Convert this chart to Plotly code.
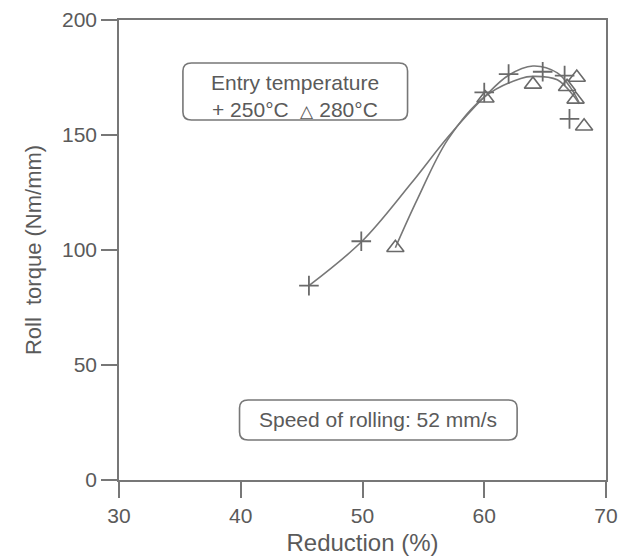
import plotly.graph_objects as go

# Measured points
x_250 = [45.6, 49.9, 60.0, 62.0, 64.8, 66.6, 67.0]
y_250 = [84.5, 103.8, 168.5, 176.5, 177.5, 175.8, 157.0]
x_280 = [52.7, 60.1, 64.0, 66.8, 67.6, 67.5, 68.2]
y_280 = [101.0, 166.0, 172.0, 171.0, 175.0, 165.5, 153.8]

# Fitted curves
cx_250 = [45.6, 50.0, 54.0, 57.0, 60.0, 62.0, 64.0, 66.0, 67.1, 67.8]
cy_250 = [84.5, 104.0, 129.0, 149.0, 166.5, 176.0, 180.0, 177.0, 170.5, 164.0]
cx_280 = [52.7, 54.5, 57.0, 60.0, 63.0, 64.0, 66.0, 67.4, 67.8]
cy_280 = [101.0, 122.0, 148.0, 166.5, 174.6, 175.5, 174.0, 166.6, 163.5]

x_ticks = [30, 40, 50, 60, 70]
y_ticks = [0, 50, 100, 150, 200]

GREY = "#777777"
TXT = "#5a5a5a"
FONT = "Liberation Sans, Arial, sans-serif"

fig = go.Figure()
fig.add_trace(go.Scatter(x=cx_250, y=cy_250, mode="lines", line=dict(color=GREY, width=1.6, shape="spline", smoothing=1.0), showlegend=False, hoverinfo="skip"))
fig.add_trace(go.Scatter(x=cx_280, y=cy_280, mode="lines", line=dict(color=GREY, width=1.6, shape="spline", smoothing=1.0), showlegend=False, hoverinfo="skip"))
fig.add_trace(go.Scatter(x=x_250, y=y_250, mode="markers", name="250°C",
                         marker=dict(symbol="cross-thin", size=14, line=dict(color="#6a6a6a", width=1.8)), showlegend=False))
fig.add_trace(go.Scatter(x=x_280, y=y_280, mode="markers", name="280°C",
                         marker=dict(symbol="triangle-up-open", size=15, color="#6a6a6a", line=dict(color="#6a6a6a", width=1.6)), showlegend=False))

def rounded_box(x0, x1, y0, y1, rx, ry):
    return (f"M {x0+rx},{y0} L {x1-rx},{y0} Q {x1},{y0} {x1},{y0+ry} "
            f"L {x1},{y1-ry} Q {x1},{y1} {x1-rx},{y1} L {x0+rx},{y1} "
            f"Q {x0},{y1} {x0},{y1-ry} L {x0},{y0+ry} Q {x0},{y0} {x0+rx},{y0} Z")

fig.add_shape(type="path", path=rounded_box(35.25, 53.7, 156.5, 181.3, 0.7, 3.5),
              line=dict(color=GREY, width=1.6), xref="x", yref="y")
fig.add_shape(type="path", path=rounded_box(39.9, 62.7, 17.4, 34.8, 0.7, 3.5),
              line=dict(color=GREY, width=1.6), xref="x", yref="y")

fig.add_annotation(x=44.45, y=173.0, text="Entry temperature", showarrow=False,
                   font=dict(family=FONT, size=21, color=TXT))
fig.add_annotation(x=44.45, y=161.0, text="+ 250°C  <span style='font-size:17px'>△</span> 280°C", showarrow=False,
                   font=dict(family=FONT, size=21, color=TXT))
fig.add_annotation(x=51.3, y=26.1, text="Speed of rolling: 52 mm/s", showarrow=False,
                   font=dict(family=FONT, size=21, color=TXT))

axis_common = dict(showline=True, linecolor=GREY, linewidth=1.6, mirror=True,
                   ticks="outside", ticklen=16, tickwidth=1.6, tickcolor=GREY,
                   showgrid=False, zeroline=False,
                   tickfont=dict(family=FONT, size=21, color=TXT))

fig.update_xaxes(range=[30, 70], tickvals=x_ticks, ticktext=[str(v) for v in x_ticks],
                 title=dict(text="Reduction (%)", font=dict(family=FONT, size=24, color=TXT), standoff=8),
                 **axis_common)
fig.update_yaxes(range=[0, 200], tickvals=y_ticks, ticktext=[str(v) for v in y_ticks],
                 title=dict(text="Roll  torque (Nm/mm)", font=dict(family=FONT, size=22, color=TXT), standoff=14),
                 **axis_common)

fig.update_layout(width=623, height=557, margin=dict(l=119, r=17, t=20, b=77, autoexpand=False),
                  plot_bgcolor="white", paper_bgcolor="white")

fig.write_html("out.html")
